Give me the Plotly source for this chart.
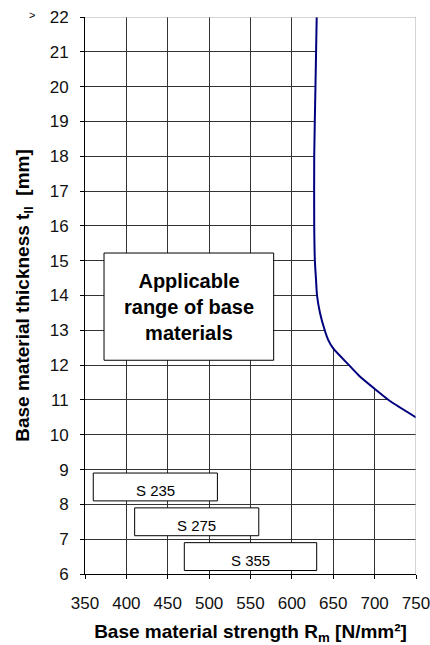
import plotly.graph_objects as go

# Data
curve_x = [630, 628.5, 627, 627, 627.8, 629.2, 630.4, 634, 640, 644, 650,
           669, 681.5, 699.6, 718.6, 750]
curve_y = [22, 20, 18, 16, 15, 14.44, 14.0, 13.5, 12.98, 12.72, 12.48,
           12.0, 11.69, 11.33, 10.97, 10.5]

x_ticks = [350, 400, 450, 500, 550, 600, 650, 700, 750]
y_ticks = list(range(6, 23))

steel_names = ["S 235", "S 275", "S 355"]
steel_x0 = [360, 410, 470]
steel_x1 = [510, 560, 630]
steel_y0 = [8.1, 7.1, 6.1]
steel_y1 = [8.9, 7.9, 6.9]

range_box = dict(x0=373, x1=578, y0=12.14, y1=15.22)
range_text = "Applicable<br>range of base<br>materials"

FONT = "Liberation Sans, Arial, sans-serif"

fig = go.Figure()

# white region right of the curve (hides grid)
fig.add_trace(go.Scatter(
    x=curve_x + [750, 750], y=curve_y + [10.5, 22],
    fill="toself", fillcolor="white", mode="lines",
    line=dict(width=0, color="white", shape="spline", smoothing=0.6),
    hoverinfo="skip", showlegend=False))

fig.add_trace(go.Scatter(
    x=curve_x, y=curve_y, mode="lines",
    line=dict(color="#00007f", width=2, shape="spline", smoothing=0.6),
    showlegend=False))

shapes = []
annotations = []
shapes.append(dict(type="rect", xref="x", yref="y", **range_box,
                   line=dict(color="black", width=1), fillcolor="white", layer="above"))
annotations.append(dict(x=(range_box["x0"] + range_box["x1"]) / 2,
                        y=(range_box["y0"] + range_box["y1"]) / 2,
                        xref="x", yref="y", text="<b>" + range_text + "</b>",
                        showarrow=False, font=dict(size=20, color="black", family=FONT)))
for n, a, b, c, d in zip(steel_names, steel_x0, steel_x1, steel_y0, steel_y1):
    shapes.append(dict(type="rect", xref="x", yref="y", x0=a, x1=b, y0=c, y1=d,
                       line=dict(color="black", width=1), fillcolor="white", layer="above"))
    annotations.append(dict(x=(a + b) / 2, y=(c + d) / 2 - 0.1, xref="x", yref="y",
                            text=n, showarrow=False,
                            font=dict(size=15, color="black", family=FONT)))

# gray top/right border
shapes.append(dict(type="line", xref="x", yref="y", x0=350, x1=750, y0=22, y1=22,
                   line=dict(color="#aaaaaa", width=1), layer="above"))
shapes.append(dict(type="line", xref="x", yref="y", x0=750, x1=750, y0=6, y1=22,
                   line=dict(color="#aaaaaa", width=1), layer="above"))

annotations.append(dict(x=-0.16, y=1.004, xref="paper", yref="paper", text=">",
                        xanchor="center", yanchor="middle",
                        showarrow=False, font=dict(size=11, color="black", family=FONT)))

fig.update_layout(
    width=430, height=645,
    margin=dict(l=85, r=14, t=17, b=71),
    plot_bgcolor="white", paper_bgcolor="white",
    font=dict(family=FONT, size=17, color="#111"),
    shapes=shapes, annotations=annotations,
    xaxis=dict(range=[350, 750], tickvals=x_ticks, showgrid=True, gridcolor="#333",
               gridwidth=1, showline=True, linecolor="black", linewidth=1,
               ticks="outside", ticklen=4, tickcolor="black", zeroline=False,
               ticklabelstandoff=10, automargin=False, ticklabeloverflow="allow",
               title=dict(text="<b>Base material strength R<sub>m</sub> [N/mm²]</b>",
                          font=dict(size=19, color="black"), standoff=16)),
    yaxis=dict(range=[6, 22], tickvals=y_ticks, showgrid=True, gridcolor="#333",
               gridwidth=1, showline=True, linecolor="black", linewidth=1,
               ticks="outside", ticklen=4, tickcolor="black", zeroline=False,
               ticklabelstandoff=8, automargin=False, ticklabeloverflow="allow",
               title=dict(text="<b>Base material thickness t<sub>II</sub>  [mm]</b>",
                          font=dict(size=19, color="black"), standoff=15)),
)

fig.write_html("out.html", config={"displayModeBar": False},
               post_script="document.body.style.margin='0';document.body.style.overflow='hidden';")
